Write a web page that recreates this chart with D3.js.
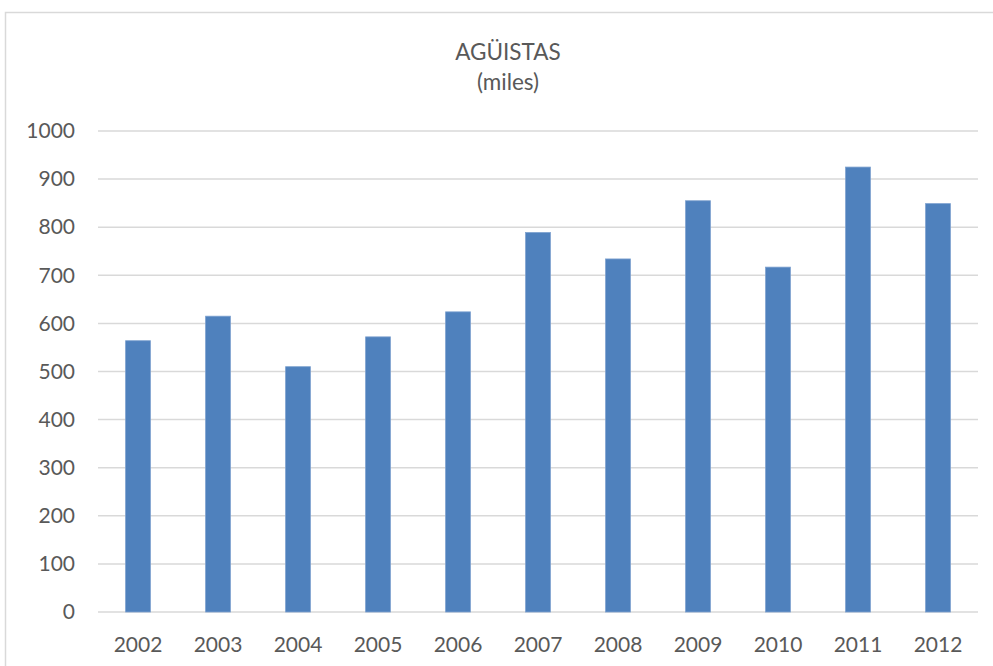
<!DOCTYPE html>
<html>
<head>
<meta charset="utf-8">
<script src="https://cdn.jsdelivr.net/npm/d3@7"></script>
<style>
  body { margin: 0; background: #fff; }
  svg { display: block; font-family: Lato, "Open Sans", sans-serif; }
</style>
</head>
<body>
<script>
// chart data
var years = ["2002", "2003", "2004", "2005", "2006", "2007", "2008", "2009", "2010", "2011", "2012"];
var values = [564, 615, 510, 572, 624, 789, 734, 855, 717, 925, 849];
var yTicks = [0, 100, 200, 300, 400, 500, 600, 700, 800, 900, 1000];

var width = 993,
    height = 666;

var svg = d3.select("body")
    .append("svg")
    .attr("width", width)
    .attr("height", height);

// chart area border
svg.append("rect")
    .attr("x", 5.5)
    .attr("y", 12.5)
    .attr("width", 1000)
    .attr("height", 700)
    .attr("fill", "none")
    .attr("stroke", "#d9d9d9")
    .attr("stroke-width", 1.5);

var plot = {left: 98, right: 978, top: 131, bottom: 612};

var x = d3.scaleBand()
    .domain(years)
    .range([plot.left, plot.right])
    .paddingInner(0.69)
    .paddingOuter(0.345);

var y = d3.scaleLinear()
    .domain([0, 1000])
    .range([plot.bottom, plot.top]);

// gridlines
svg.append("g")
    .selectAll("line")
    .data(yTicks)
    .enter()
    .append("line")
    .attr("x1", plot.left)
    .attr("x2", plot.right)
    .attr("y1", function(d){ return y(d); })
    .attr("y2", function(d){ return y(d); })
    .attr("stroke", "#d9d9d9")
    .attr("stroke-width", 1.5);

// bars
svg.append("g")
    .selectAll("rect")
    .data(values)
    .enter()
    .append("rect")
    .attr("x", function(d, i){ return x(years[i]); })
    .attr("width", x.bandwidth())
    .attr("y", function(d){ return y(d); })
    .attr("height", function(d){ return y(0) - y(d); })
    .attr("fill", "#4f81bd")
    .attr("stroke", "#7da1cf")
    .attr("stroke-width", 0.8);

// y axis labels
var yAxis = d3.axisLeft(y)
    .tickValues(yTicks)
    .tickFormat(d3.format("d"))
    .tickSize(0)
    .tickPadding(23);

svg.append("g")
    .attr("transform", "translate(" + plot.left + ",0)")
    .call(yAxis)
    .call(function(g){ g.select(".domain").remove(); })
    .selectAll("text")
    .attr("font-family", "Lato, 'Open Sans', sans-serif")
    .attr("font-size", 21)
    .attr("fill", "#595959");

// x axis labels
var xAxis = d3.axisBottom(x)
    .tickSize(0)
    .tickPadding(25);

svg.append("g")
    .attr("transform", "translate(0," + plot.bottom + ")")
    .call(xAxis)
    .call(function(g){ g.select(".domain").remove(); })
    .selectAll("text")
    .attr("font-family", "Lato, 'Open Sans', sans-serif")
    .attr("font-size", 21)
    .attr("fill", "#595959");

// title
svg.append("text")
    .attr("x", 508)
    .attr("y", 60)
    .attr("text-anchor", "middle")
    .attr("font-size", 22.5)
    .attr("fill", "#595959")
    .text("AGÜISTAS");

svg.append("text")
    .attr("x", 508)
    .attr("y", 90)
    .attr("text-anchor", "middle")
    .attr("font-size", 22.5)
    .attr("fill", "#595959")
    .text("(miles)");
</script>
</body>
</html>
